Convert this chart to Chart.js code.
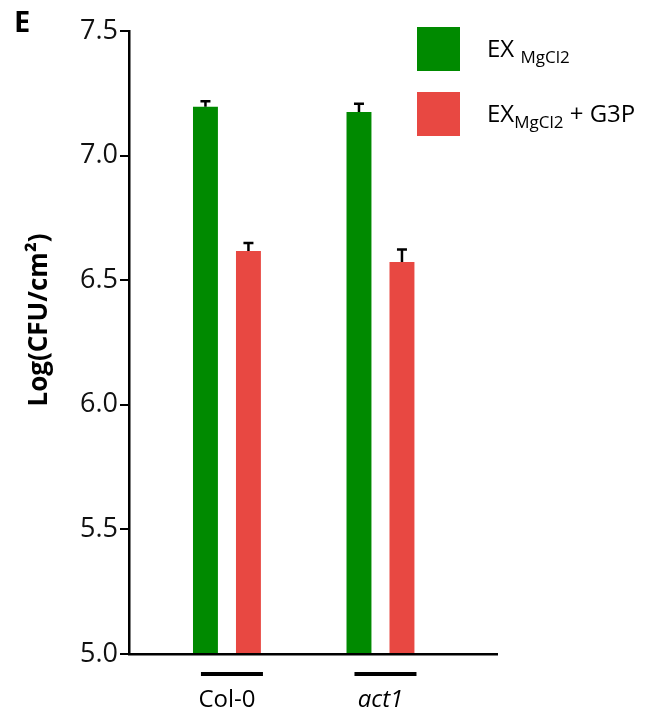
<!DOCTYPE html>
<html>
<head>
<meta charset="utf-8">
<script src="https://cdn.jsdelivr.net/npm/chart.js@4.4.1/dist/chart.umd.min.js"></script>
<style>
  body { margin: 0; background: #fff; }
</style>
</head>
<body>
<canvas id="myChart" width="648" height="717"></canvas>
<script>
// values
const categories = ['Col-0', 'act1'];
const mgcl2Values = [7.196, 7.175];
const mgcl2Errors = [0.022, 0.033];
const g3pValues = [6.617, 6.573];
const g3pErrors = [0.032, 0.05];
const yTicks = [5.0, 5.5, 6.0, 6.5, 7.0, 7.5];

// legend text: main part, subscript, tail
const legendMain = ['EX ', 'EX'];
const legendSub = ['MgCl2', 'MgCl2'];
const legendTail = ['', ' + G3P'];
const yTitle = 'Log(CFU/cm\u00B2)';
const panelLetter = 'E';

let greenColor = 'rgb(0, 138, 0)';
let redColor = 'rgb(232, 72, 66)';
const fontFamily = "'Open Sans', 'DejaVu Sans', sans-serif";

const extrasPlugin = {
    id: 'extrasPlugin',
    afterDatasetsDraw: (chart) => {
        const ctx = chart.ctx;
        const yAxis = chart.scales.y;
        // error bars on top of each bar
        ctx.save();
        ctx.strokeStyle = '#000';
        ctx.lineWidth = 2.5;
        chart.data.datasets.forEach((ds, di) => {
            chart.getDatasetMeta(di).data.forEach((bar, i) => {
                const errTop = yAxis.getPixelForValue(ds.data[i].y + ds.errors[i]);
                ctx.beginPath();
                ctx.moveTo(bar.x, bar.y);
                ctx.lineTo(bar.x, errTop);
                ctx.moveTo(bar.x - 5, errTop);
                ctx.lineTo(bar.x + 5, errTop);
                ctx.stroke();
            });
        });
        ctx.restore();
    },
    afterDraw: (chart) => {
        const ctx = chart.ctx;
        const xAxis = chart.scales.x;
        ctx.save();

        // underline above each category label
        ctx.strokeStyle = '#000';
        ctx.lineWidth = 4;
        categories.forEach((c, i) => {
            const px = xAxis.getPixelForValue(i + 1) + 5;
            ctx.beginPath();
            ctx.moveTo(px - 31, 674);
            ctx.lineTo(px + 31, 674);
            ctx.stroke();
        });

        // y axis title
        ctx.fillStyle = '#000';
        ctx.save();
        ctx.translate(40, 320);
        ctx.rotate(-Math.PI / 2);
        ctx.font = 'bold 26px ' + fontFamily;
        ctx.textAlign = 'center';
        ctx.textBaseline = 'middle';
        ctx.fillText(yTitle, 0, 0);
        ctx.restore();

        // panel letter
        ctx.font = 'bold 29px ' + fontFamily;
        ctx.textAlign = 'left';
        ctx.textBaseline = 'alphabetic';
        ctx.fillText(panelLetter, 14, 32);

        // legend
        const colors = [greenColor, redColor];
        colors.forEach((col, i) => {
            const top = 27 + i * 65;
            ctx.fillStyle = col;
            ctx.fillRect(417, top, 43, 44);
            ctx.fillStyle = '#000';
            const base = top + 30;
            let x = 487;
            ctx.font = '24px ' + fontFamily;
            ctx.fillText(legendMain[i], x, base);
            x += ctx.measureText(legendMain[i]).width;
            ctx.font = '17px ' + fontFamily;
            ctx.fillText(legendSub[i], x, base + 6);
            x += ctx.measureText(legendSub[i]).width;
            ctx.font = '24px ' + fontFamily;
            ctx.fillText(legendTail[i], x, base);
        });
        ctx.restore();
    }
};

const chart = new Chart(document.getElementById('myChart').getContext('2d'), {
    type: 'bar',
    data: {
        datasets: [
            {
                label: 'EX MgCl2',
                data: mgcl2Values.map((v, i) => ({ x: i + 1, y: v })),
                errors: mgcl2Errors,
                backgroundColor: greenColor,
                base: 5
            },
            {
                label: 'EX MgCl2 + G3P',
                data: g3pValues.map((v, i) => ({ x: i + 1, y: v })),
                errors: g3pErrors,
                backgroundColor: redColor,
                base: 5
            }
        ]
    },
    options: {
        responsive: false,
        animation: false,
        categoryPercentage: 0.56,
        barPercentage: 0.58,
        layout: {
            padding: { left: 0, top: 31, right: 151, bottom: 0 }
        },
        plugins: {
            legend: { display: false },
            tooltip: { enabled: false }
        },
        scales: {
            x: {
                type: 'linear',
                min: 0.362,
                max: 2.759,
                offset: false,
                afterBuildTicks: function (scale) {
                    scale.ticks = categories.map((c, i) => ({ value: i + 1 }));
                },
                afterFit: function (scale) {
                    scale.height = 63;
                },
                grid: { display: true, offset: false, drawOnChartArea: false, drawTicks: false },
                border: { display: true, color: '#000', width: 2.5 },
                ticks: {
                    padding: 32,
                    color: '#000',
                    autoSkip: false,
                    maxRotation: 0,
                    callback: function (value) {
                        return categories[Math.round(value) - 1];
                    },
                    font: function (context) {
                        return {
                            family: fontFamily,
                            size: 24,
                            style: context.index === 1 ? 'italic' : 'normal'
                        };
                    }
                }
            },
            y: {
                min: yTicks[0],
                max: yTicks[yTicks.length - 1],
                afterBuildTicks: function (scale) {
                    scale.ticks = yTicks.map(v => ({ value: v }));
                },
                afterFit: function (scale) {
                    scale.width = 129;
                },
                grid: {
                    drawOnChartArea: false,
                    drawTicks: true,
                    tickLength: 9,
                    color: '#000',
                    lineWidth: 2
                },
                border: { display: true, color: '#000', width: 2.5 },
                ticks: {
                    padding: 2,
                    color: '#111',
                    font: { family: fontFamily, size: 27 },
                    callback: function (value) {
                        return value.toFixed(1);
                    }
                }
            }
        }
    },
    plugins: [extrasPlugin]
});
</script>
</body>
</html>
